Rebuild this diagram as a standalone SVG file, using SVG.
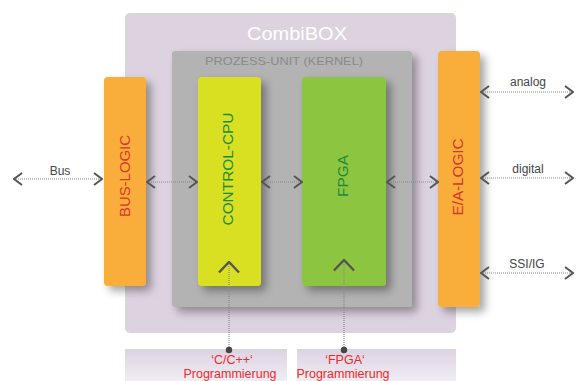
<svg xmlns="http://www.w3.org/2000/svg" width="577" height="381" viewBox="0 0 577 381">
<style>
  .lbl { font-family: "Liberation Sans", Arial, sans-serif; }
  .conn { fill: none; stroke: #8a8a8a; stroke-width: 1.2; stroke-dasharray: 1 1; }
  .vlbl { font-size: 14px; }
  .red { fill: #d9352b; }
  .grn { fill: #1f8a3c; }
  .side { font-size: 12px; fill: #444; }
  .prog { font-size: 12.5px; fill: #ee2a2a; }
</style>
<defs>
  <filter id="sh" x="-30%" y="-20%" width="170%" height="150%">
    <feDropShadow dx="5" dy="5" stdDeviation="4" flood-color="#000" flood-opacity="0.35"/>
  </filter>
  <linearGradient id="bot" x1="0" y1="0" x2="0" y2="1">
    <stop offset="0" stop-color="#dcd3e2"/>
    <stop offset="1" stop-color="#f6f3f8"/>
  </linearGradient>
  <marker id="chev" viewBox="0 0 10 14" refX="9" refY="7" markerWidth="10" markerHeight="14" markerUnits="userSpaceOnUse" orient="auto-start-reverse">
    <path d="M1,1 L9,7 L1,13" fill="none" stroke="#555" stroke-width="2"/>
  </marker>
  <marker id="chevUp" viewBox="0 0 22 13" refX="11" refY="1.5" markerWidth="22" markerHeight="13" markerUnits="userSpaceOnUse" orient="0">
    <path d="M1,12 L11,1.5 L21,12" fill="none" stroke="#555" stroke-width="2.4"/>
  </marker>
  <marker id="dot" viewBox="0 0 8 8" refX="4" refY="4" markerWidth="8" markerHeight="8" markerUnits="userSpaceOnUse">
    <circle cx="4" cy="4" r="3.2" fill="#444"/>
  </marker>
</defs>

<g id="combibox">
  <rect x="125" y="13" width="331" height="320" rx="5" fill="#ddd2e0"/>
  <text class="lbl" x="297" y="40" font-size="19" fill="#fff" text-anchor="middle" textLength="100" lengthAdjust="spacingAndGlyphs">CombiBOX</text>
</g>

<g id="kernel">
  <rect x="172" y="51" width="240" height="256" rx="3" fill="#b3b3b3" filter="url(#sh)"/>
  <text class="lbl" x="284" y="65" font-size="11.5" fill="#8a8a8a" text-anchor="middle" textLength="158" lengthAdjust="spacingAndGlyphs">PROZESS-UNIT (KERNEL)</text>
</g>

<g id="bus-logic">
  <rect x="104" y="77" width="42" height="209" rx="4" fill="#f9ae3b" filter="url(#sh)"/>
  <text class="lbl vlbl red" transform="translate(130,176) rotate(-90)" text-anchor="middle" textLength="82" lengthAdjust="spacingAndGlyphs">BUS-LOGIC</text>
</g>

<g id="control-cpu">
  <rect x="198" y="77" width="63" height="209" rx="4" fill="#d9e021" filter="url(#sh)"/>
  <text class="lbl vlbl grn" transform="translate(233,169) rotate(-90)" text-anchor="middle" textLength="113" lengthAdjust="spacingAndGlyphs">CONTROL-CPU</text>
</g>

<g id="fpga">
  <rect x="302" y="77" width="84" height="209" rx="4" fill="#8cc540" filter="url(#sh)"/>
  <text class="lbl vlbl grn" transform="translate(348,176) rotate(-90)" text-anchor="middle" textLength="42" lengthAdjust="spacingAndGlyphs">FPGA</text>
</g>

<g id="ea-logic">
  <rect x="438" y="51" width="42" height="256" rx="4" fill="#f9ae3b" filter="url(#sh)"/>
  <text class="lbl vlbl red" transform="translate(463,177) rotate(-90)" text-anchor="middle" textLength="77" lengthAdjust="spacingAndGlyphs">E/A-LOGIC</text>
</g>

<g id="prog-cpp">
  <rect x="125" y="349" width="162" height="40" fill="url(#bot)"/>
  <text class="lbl prog" x="232" y="363.5" text-anchor="middle">‘C/C++‘</text>
  <text class="lbl prog" x="230" y="378" text-anchor="middle">Programmierung</text>
</g>

<g id="prog-fpga">
  <rect x="297" y="349" width="159" height="40" fill="url(#bot)"/>
  <text class="lbl prog" x="345" y="363.5" text-anchor="middle">‘FPGA‘</text>
  <text class="lbl prog" x="343" y="378" text-anchor="middle">Programmierung</text>
</g>

<g id="connectors">
  <line class="conn" x1="14" y1="179" x2="102" y2="179" marker-start="url(#chev)" marker-end="url(#chev)"/>
  <line class="conn" x1="147" y1="182" x2="197" y2="182" marker-start="url(#chev)" marker-end="url(#chev)"/>
  <line class="conn" x1="262" y1="182" x2="302" y2="182" marker-start="url(#chev)" marker-end="url(#chev)"/>
  <line class="conn" x1="387" y1="182" x2="438" y2="182" marker-start="url(#chev)" marker-end="url(#chev)"/>
  <line class="conn" x1="481" y1="92" x2="573" y2="92" marker-start="url(#chev)" marker-end="url(#chev)"/>
  <line class="conn" x1="481" y1="178" x2="573" y2="178" marker-start="url(#chev)" marker-end="url(#chev)"/>
  <line class="conn" x1="481" y1="273" x2="573" y2="273" marker-start="url(#chev)" marker-end="url(#chev)"/>
  <line class="conn" x1="229" y1="262" x2="229" y2="350" marker-start="url(#chevUp)" marker-end="url(#dot)"/>
  <line class="conn" x1="344" y1="260" x2="344" y2="350" marker-start="url(#chevUp)" marker-end="url(#dot)"/>
  <text class="lbl side" x="60" y="175" text-anchor="middle">Bus</text>
  <text class="lbl side" x="528" y="86" text-anchor="middle">analog</text>
  <text class="lbl side" x="528" y="173" text-anchor="middle">digital</text>
  <text class="lbl side" x="527" y="268" text-anchor="middle">SSI/IG</text>
</g>
</svg>
